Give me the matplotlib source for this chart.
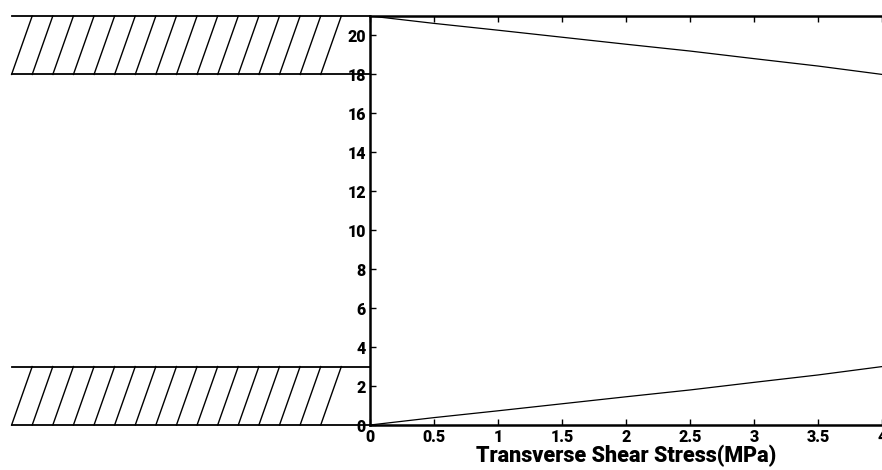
import matplotlib
matplotlib.use("Agg")
import matplotlib.pyplot as plt
import numpy as np

plt.rcParams['font.family'] = ['Roboto', 'DejaVu Sans']
plt.rcParams['font.weight'] = 'heavy'

# shear stress (MPa) vs. position (mm) in the two flanges
stress = [0, 0.5, 1.0, 1.5, 2.0, 2.5, 3.0, 3.5, 4.0]
pos_bottom = [0, 0.38, 0.73, 1.09, 1.45, 1.80, 2.19, 2.57, 3.0]
pos_top = [21, 20.62, 20.27, 19.91, 19.55, 19.20, 18.81, 18.43, 18.0]

xticks = [0, 0.5, 1, 1.5, 2, 2.5, 3, 3.5, 4]
xtick_labels = ["0", "0.5", "1", "1.5", "2", "2.5", "3", "3.5", "4"]
yticks = [0, 2, 4, 6, 8, 10, 12, 14, 16, 18, 20]

# flange sketch (drawn left of the axis, in data units)
flanges = [(0, 3), (18, 21)]
flange_left = -2.8
n_hatch = 16

fig = plt.figure(figsize=(8.82, 4.7), dpi=100)
ax = fig.add_axes([0.4195, 0.0957, 0.5805, 0.8703])

ax.plot(stress, pos_top, color="black", lw=0.9)
ax.plot(stress, pos_bottom, color="black", lw=0.9)

# hatched flanges
hatch_dx = 0.161
for lo, hi in flanges:
    for yy in (lo, hi):
        ax.plot([flange_left, 0], [yy, yy], color="black", lw=1.3, clip_on=False)
    for i in range(n_hatch):
        x0 = flange_left + i * hatch_dx
        ax.plot([x0, x0 + hatch_dx], [lo, hi], color="black", lw=1.0, clip_on=False)

ax.set_xlim(0, 4)
ax.set_ylim(0, 21)
ax.set_xticks(xticks)
ax.set_xticklabels(xtick_labels)
ax.set_yticks(yticks)

for s in ax.spines.values():
    s.set_linewidth(1.8)
ax.spines["right"].set_visible(False)

ax.tick_params(direction="in", length=4, width=1, top=True, right=False,
               labelsize=11.5, pad=3)
ax.set_xlabel("Transverse Shear Stress(MPa)", fontsize=15.5, fontweight="heavy", labelpad=0)

fig.savefig("out.png", dpi=100)
